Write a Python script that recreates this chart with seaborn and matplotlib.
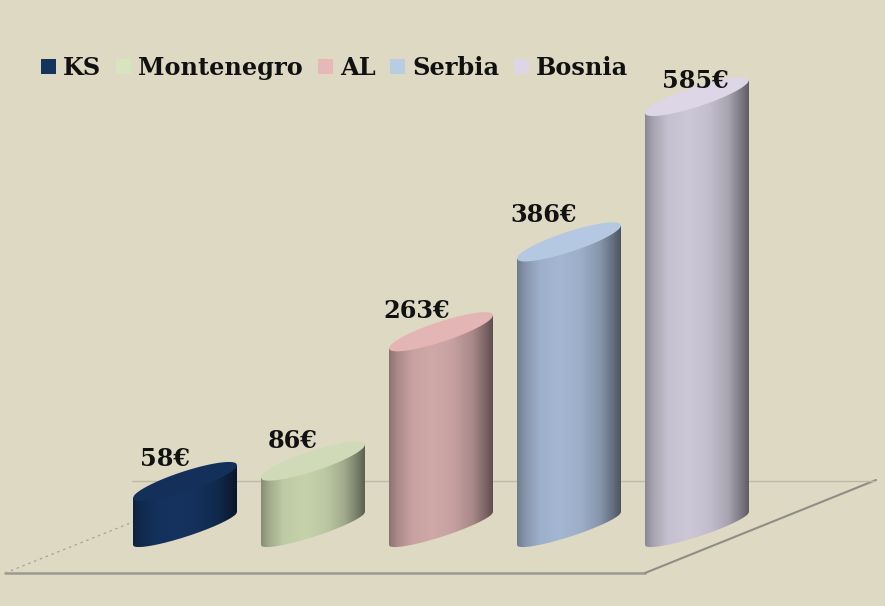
import numpy as np
import pandas as pd
import seaborn as sns
import matplotlib.pyplot as plt
from matplotlib.colors import to_rgb
from matplotlib.patches import PathPatch
from matplotlib.path import Path

countries = ['KS', 'Montenegro', 'AL', 'Serbia', 'Bosnia']
values = [58, 86, 263, 386, 585]
labels = ['58€', '86€', '263€', '386€', '585€']

legend_colors = ['#14335f', '#d8e4bd', '#e6b9b8', '#b8cce4', '#dcd6e6']
body_colors = ['#14335f', '#c6d2ac', '#d0a8a8', '#a4b7d2', '#cdc8d8']
top_colors = ['#12305a', '#d0dab8', '#e3b5b5', '#b4c8e2', '#dcd6e6']

# nudge of each value label from the left corner of the top, in pixels
label_dx = [32, 32, 28, 27, 50]
label_dy = [39, 37, 37, 43, 32]

W, H = 885, 606
BG = '#ddd9c3'
FONT = 'DejaVu Serif'
FS = 17.3

# pixel layout of the picture
scale = 0.7306      # px per euro
zero_px = 540.4
first_bar = 185.0
step = 128.0
rise = 33 / scale
bulge = 10.5 / scale
low_bulge = 8.5 / scale
base_y = (zero_px - 545) / scale

df = pd.DataFrame({'country': countries, 'value': values})

sns.set_theme(style='white')
plt.rcParams['font.family'] = [FONT]

fig = plt.figure(figsize=(W / 100, H / 100), dpi=100, facecolor=BG)
ax = fig.add_axes([0, 0, 1, 1])

sns.barplot(data=df, x='country', y='value', hue='country', palette=legend_colors,
            hue_order=countries, order=countries, width=104 / step, dodge=False,
            saturation=1, legend=True, ax=ax)

xlim = (-first_bar / step, (W - first_bar) / step)
ylim = (-(H - zero_px) / scale, zero_px / scale)

# floor and back wall, drawn in axes fractions
def floor(xs, ys, **kw):
    ax.plot(np.array(xs) / W, 1 - np.array(ys) / H, transform=ax.transAxes, zorder=1, **kw)

floor([5, 645], [573, 573], color='#9b9a90', lw=1.8)
floor([645, 876], [573, 480], color='#8e8e86', lw=1.5)
floor([132, 875], [481, 481], color='#bdbaa8', lw=1)
floor([5, 133], [573, 522], color='#a5a396', lw=0.9, ls=(0, (2, 3)))

# gradient across a cylinder
stops_t = [0, 0.08, 0.22, 0.42, 0.62, 0.8, 0.93, 1]
stops_m = [0.68, 0.82, 0.96, 1.0, 0.95, 0.82, 0.6, 0.46]
ramp_x = np.linspace(0, 1, 200)
ramp = np.interp(ramp_x, stops_t, stops_m)
t = np.linspace(-1, 1, 120)
curve = np.sqrt(1 - t ** 2)

bars = [p for c in ax.containers for p in c]
for i, bar in enumerate(bars):
    left, width, top = bar.get_x(), bar.get_width(), bar.get_height()
    xs = left + width * (t + 1) / 2
    slope = rise * (t + 1) / 2
    low = base_y + slope - low_bulge * curve
    upper = top + slope + bulge * curve
    lower_top = top + slope - bulge * curve

    body = Path(np.r_[np.c_[xs, low], np.c_[xs[::-1], (top + slope)[::-1]]])
    img = np.outer(ramp, to_rgb(body_colors[i])).reshape(1, -1, 3)
    im = ax.imshow(img, extent=(left, left + width, base_y - low_bulge, top + rise + bulge),
                   aspect='auto', zorder=3, interpolation='bilinear')
    im.set_clip_path(PathPatch(body, transform=ax.transData))

    cap = Path(np.r_[np.c_[xs, lower_top], np.c_[xs[::-1], upper[::-1]]])
    ax.add_patch(PathPatch(cap, facecolor=top_colors[i], edgecolor='none', zorder=4))

    bar.set_facecolor('none')
    bar.set_edgecolor('none')

    ax.annotate(labels[i], xy=(left, top), xytext=(label_dx[i] * 0.72, label_dy[i] * 0.72),
                textcoords='offset points', ha='center', va='center', fontsize=FS,
                fontweight='bold', color='#111111', zorder=6)

ax.set_xlim(xlim)
ax.set_ylim(ylim)
ax.set_axis_off()

sns.move_legend(ax, 'upper left', bbox_to_anchor=(41 / W, 1 - 56 / H), ncol=5, title=None,
                frameon=False, borderpad=0, borderaxespad=0,
                prop={'family': FONT, 'weight': 'bold', 'size': FS},
                labelcolor='#111111', handlelength=0.625, handleheight=0.625,
                handletextpad=0.29, columnspacing=0.62)
for h in ax.get_legend().get_patches():
    h.set_edgecolor('none')

fig.savefig('out.png', dpi=100, facecolor=BG)
